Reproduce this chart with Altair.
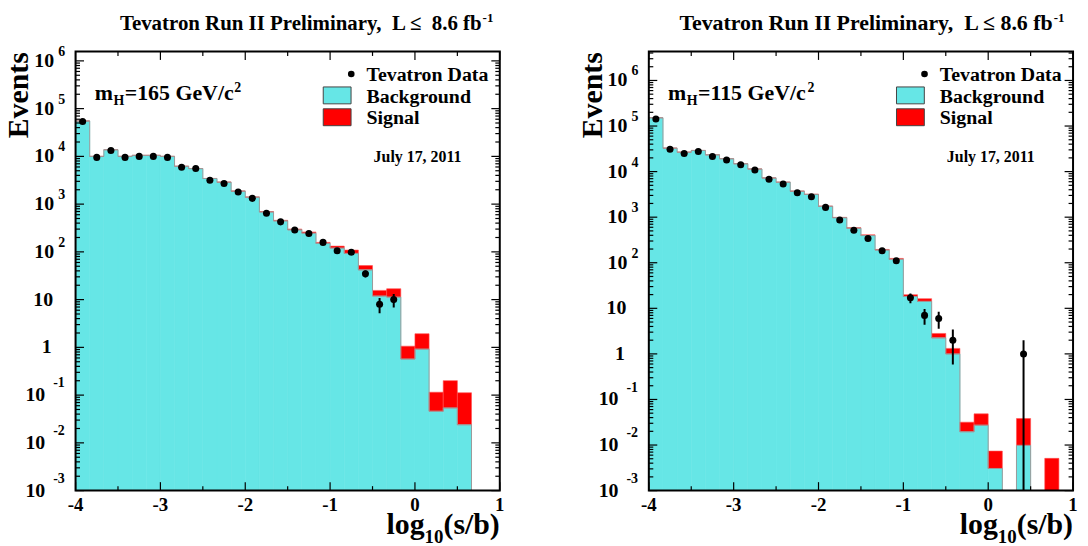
import math
import altair as alt
import pandas as pd

FONT = "Liberation Serif"
CYAN = "#66E6E6"
RED = "#FF0000"
W, H = 427, 442
X_MIN, X_MAX = -4.0, 1.0
BIN_WIDTH = 1.0 / 6.0
Y_MIN = 1e-3
LEFT_YMAX = 10 ** 6.197
RIGHT_YMAX = 10 ** 6.636

# ---------------- data ----------------
# m_H = 165 GeV/c^2 panel (28 bins of width 1/6 starting at -4)
left_bkg = [55200, 10000, 13800, 10000, 10500, 10500, 10000, 6200, 5550, 3440,
            2880, 1870, 1400, 685, 446, 290, 247, 150, 120, 93,
            42, 11.9, 11.3, 0.57, 0.92, 0.046, 0.054, 0.024]
left_sig = [6.7, 1.8, 3.6, 3.8, 5.9, 8.7, 12, 11, 14, 13,
            16, 16, 17, 12, 12, 11, 14, 8, 12, 16,
            9.6, 3.7, 5.6, 0.49, 1.01, 0.069, 0.147, 0.088]
left_obs = [53500, 9530, 13300, 9530, 10000, 10000, 9530, 5900, 5550, 3170,
            2700, 1790, 1320, 644, 425, 286, 243, 158, 106, 98,
            35, 8, 10, 0, 0, 0, 0, 0]

# m_H = 115 GeV/c^2 panel (29 bins)
right_bkg = [152000, 32700, 26700, 29100, 23400, 19200, 14900, 11400, 7260, 5850,
             3720, 3160, 1730, 975, 573, 395, 190, 119, 18.2, 14.2,
             2.25, 1.0, 0.0196, 0.0273, 0.00306, 0, 0.00984, 0, 0.0009]
right_sig = [18, 6, 7, 11, 13, 16, 18, 20, 19, 22,
             21, 26, 21, 17, 15, 15, 6, 5.5, 1.7, 2.1,
             0.56, 0.32, 0.0121, 0.021, 0.0043, 0, 0.0284, 0, 0.0042]
right_obs = [143000, 31000, 25000, 27700, 21500, 17900, 14200, 10800, 6800, 5370,
             3420, 2800, 1640, 869, 518, 340, 184, 111, 17, 7,
             6, 2, 0, 0, 0, 0, 1, 0, 0]

x_tick_labels = ["-4", "-3", "-2", "-1", "0", "1"]
x_major = [-4, -3, -2, -1, 0, 1]
x_minor = [-3.5, -2.5, -1.5, -0.5, 0.5]
decades = [-3, -2, -1, 0, 1, 2, 3, 4, 5, 6]

CHAR_W = {" ": .25, "\u00a0": .25, ",": .25, "-": .333, ".": .25, "/": .278,
          "=": .57, "G": .778, "H": .778, "V": .722, "c": .444, "e": .444,
          "m": .833, "l": .278, "o": .5, "g": .5, "(": .333, ")": .333,
          "s": .389, "b": .556, "f": .333}


def tw(s, size):
    return sum(CHAR_W.get(c, .5) for c in s) * size


def text_layer(text, x, y, size, align="left", baseline="alphabetic", angle=0):
    return alt.Chart(pd.DataFrame({"t": [text]})).mark_text(
        align=align, baseline=baseline, angle=angle, font=FONT,
        fontWeight="bold", fontSize=size, color="black"
    ).encode(x=alt.value(x), y=alt.value(y), text="t:N")


def make_panel(bkg, sig, obs, ymax, mass, title_main, title_size, title_end,
               anchor):
    n = len(bkg)
    lo = [X_MIN + i * BIN_WIDTH for i in range(n)]
    hi = [v + BIN_WIDTH for v in lo]
    xs = alt.Scale(domain=[X_MIN, X_MAX], nice=False, zero=False)
    ys = alt.Scale(type="log", domain=[Y_MIN, ymax], nice=False)

    hist = pd.DataFrame({"lo": lo, "hi": hi, "bkg": bkg, "sig": sig, "obs": obs})
    hist["c"] = (hist.lo + hist.hi) / 2
    hist["floor"] = Y_MIN
    hist["top"] = hist.bkg + hist.sig
    hist["sbase"] = hist.bkg.clip(lower=1e-6)
    bk = hist[hist.bkg > 0]
    sg = hist[hist.sig > 0]
    ob = hist[hist.obs > 0].copy()
    ob["elo"] = (ob.obs - ob.obs ** 0.5).clip(lower=1e-6)
    ob["ehi"] = ob.obs + ob.obs ** 0.5

    # outline of the background histogram
    pts = [(lo[0], 1e-6)] + [(lo[i], max(bkg[i], 1e-6)) for i in range(n)]
    pts += [(hi[-1], max(bkg[-1], 1e-6)), (hi[-1], 1e-6)]
    outline = pd.DataFrame({"ex": [p[0] for p in pts], "ey": [p[1] for p in pts],
                            "o": list(range(len(pts)))})

    X = lambda f: alt.X(f, scale=xs, axis=None)
    Y = lambda f: alt.Y(f, scale=ys, axis=None)

    layers = []
    layers.append(alt.Chart(bk).mark_rect(fill=CYAN, stroke=CYAN, strokeWidth=0.6, clip=True)
                  .encode(x=X("lo:Q"), x2="hi:Q", y=Y("bkg:Q"), y2="floor:Q"))
    layers.append(alt.Chart(sg).mark_rect(fill=RED, stroke="#ff5050", strokeWidth=0.6, clip=True)
                  .encode(x=X("lo:Q"), x2="hi:Q", y=Y("sbase:Q"), y2="top:Q"))
    layers.append(alt.Chart(outline).mark_line(interpolate="step-after", color="#9a9a9a",
                                               strokeWidth=1, clip=True)
                  .encode(x=X("ex:Q"), y=Y("ey:Q"), order="o:Q"))
    layers.append(alt.Chart(ob).mark_rule(color="black", strokeWidth=2, clip=True)
                  .encode(x=X("c:Q"), y=Y("elo:Q"), y2="ehi:Q"))
    layers.append(alt.Chart(ob).mark_point(filled=True, shape="circle", size=50,
                                           color="black", opacity=1, clip=True)
                  .encode(x=X("c:Q"), y=Y("obs:Q")))

    # ticks (inside the frame, on all four sides)
    ymaj = pd.DataFrame({"v": [10.0 ** d for d in decades]})
    ymin = pd.DataFrame({"v": [k * 10.0 ** d for d in decades for k in range(2, 10)
                               if k * 10.0 ** d < ymax]})
    xmaj = pd.DataFrame({"v": x_major})
    xmin = pd.DataFrame({"v": x_minor})
    for df, ln in ((ymaj, 8.5), (ymin, 4.5)):
        layers.append(alt.Chart(df).mark_rule(color="black", strokeWidth=1.2)
                      .encode(y=Y("v:Q"), x=alt.value(0), x2=alt.value(ln)))
        layers.append(alt.Chart(df).mark_rule(color="black", strokeWidth=1.2)
                      .encode(y=Y("v:Q"), x=alt.value(W), x2=alt.value(W - ln)))
    for df, ln in ((xmaj, 8.5), (xmin, 4.5)):
        layers.append(alt.Chart(df).mark_rule(color="black", strokeWidth=1.2)
                      .encode(x=X("v:Q"), y=alt.value(H), y2=alt.value(H - ln)))
        layers.append(alt.Chart(df).mark_rule(color="black", strokeWidth=1.2)
                      .encode(x=X("v:Q"), y=alt.value(0), y2=alt.value(ln)))

    # frame
    layers.append(alt.Chart(pd.DataFrame({"a": [0]})).mark_rect(
        fillOpacity=0, stroke="black", strokeWidth=2)
        .encode(x=alt.value(0), x2=alt.value(W), y=alt.value(0), y2=alt.value(H)))

    # y tick labels
    pos = pd.DataFrame({"v": [10.0 ** d for d in decades if d >= 2],
                        "b": ["10" for d in decades if d >= 2],
                        "e": [str(d) for d in decades if d >= 2]})
    neg = pd.DataFrame({"v": [10.0 ** d for d in decades if d < 0],
                        "b": ["10" for d in decades if d < 0],
                        "e": [str(d) for d in decades if d < 0]})
    ten = pd.DataFrame({"v": [10.0], "b": ["10"]})
    one = pd.DataFrame({"v": [1.0], "b": ["1"]})
    def lab(df, field, x, size, align, dy=0):
        return alt.Chart(df).mark_text(align=align, baseline="middle", font=FONT,
                                       fontWeight="bold", fontSize=size, dy=dy,
                                       color="black").encode(
            y=Y("v:Q"), x=alt.value(x), text=field + ":N")
    layers.append(lab(pos, "b", -21.5, 20, "right"))
    layers.append(lab(pos, "e", -17.5, 14, "left", -9))
    layers.append(lab(ten, "b", -22.5, 20, "right"))
    layers.append(lab(one, "b", -24, 20, "right"))
    layers.append(lab(neg, "b", -30.5, 20, "right"))
    layers.append(lab(neg, "e", -22.5, 14, "left", -12))

    # x tick labels
    xl = pd.DataFrame({"v": x_major, "t": x_tick_labels})
    layers.append(alt.Chart(xl).mark_text(align="center", baseline="alphabetic", font=FONT,
                                          fontWeight="bold", fontSize=19, color="black")
                  .encode(x=X("v:Q"), y=alt.value(H + 20.5), text="t:N"))

    # axis titles
    layers.append(text_layer("Events", -47.4, 0.7, 30, align="right", angle=270))
    x0 = W - (tw("log", 30) + tw("10", 19) + tw("(s/b)", 30))
    layers.append(text_layer("log", x0, H + 43.5, 30))
    layers.append(text_layer("10", x0 + tw("log", 30), H + 53, 19))
    layers.append(text_layer("(s/b)", x0 + tw("log", 30) + tw("10", 19), H + 43.5, 30))

    # title
    layers.append(text_layer(title_main, title_end, -21.3, title_size, align="right"))
    layers.append(text_layer("-1", title_end + 1, -29.3, 13))

    # mass label
    mx = 19.3
    layers.append(text_layer("m", mx, 48.7, 22))
    mx += tw("m", 22) + 0.5
    layers.append(text_layer("H", mx, 53.7, 14))
    mx += tw("H", 14) + 0.5
    rest = "=" + mass + " GeV/c"
    layers.append(text_layer(rest, mx, 48.7, 22))
    mx += tw(rest, 22) + 0.5
    layers.append(text_layer("2", mx, 40.7, 14))

    # date
    layers.append(text_layer("July 17, 2011", 300, 111, 16))

    # legend
    one_row = pd.DataFrame({"a": [0]})
    layers.append(alt.Chart(one_row).mark_point(filled=True, shape="circle", size=45,
                                                color="black", opacity=1)
                  .encode(x=alt.value(277.5), y=alt.value(22.7)))
    layers.append(alt.Chart(one_row).mark_rect(fill=CYAN, stroke="#444444", strokeWidth=1)
                  .encode(x=alt.value(249.3), x2=alt.value(277.3), y=alt.value(35.7),
                          y2=alt.value(52.7)))
    layers.append(alt.Chart(one_row).mark_rect(fill=RED, stroke="#444444", strokeWidth=1)
                  .encode(x=alt.value(249.3), x2=alt.value(277.3), y=alt.value(57.7),
                          y2=alt.value(74.7)))
    layers.append(text_layer("Tevatron Data", 292.8, 29.7, 20))
    layers.append(text_layer("Background", 292.8, 51.5, 20))
    layers.append(text_layer("Signal", 292.8, 73.5, 20))

    # invisible anchor fixing the page layout
    ax, ay = anchor
    layers.append(alt.Chart(one_row).mark_rect(opacity=0)
                  .encode(x=alt.value(ax), x2=alt.value(ax + 1), y=alt.value(ay),
                          y2=alt.value(ay + 1)))

    return alt.layer(*layers).properties(width=W, height=H)


left = make_panel(left_bkg, left_sig, left_obs, LEFT_YMAX, "165",
                  "Tevatron Run II Preliminary,\u00a0\u00a0L \u2264\u00a0\u00a08.6 fb",
                  21, 408.7, (-75.7, -49.3))
right = make_panel(right_bkg, right_sig, right_obs, RIGHT_YMAX, "115",
                   "Tevatron Run II Preliminary,\u00a0\u00a0L \u2264 8.6 fb",
                   22, 406.5, (432.3, 501.7))

chart = alt.hconcat(left, right, spacing=150, bounds="flush").properties(
    padding={"left": -8, "top": -8, "right": 0, "bottom": -6},
    background="white",
).configure_view(strokeWidth=0)

chart.save("out.html", embed_options={"renderer": "svg", "actions": False})
